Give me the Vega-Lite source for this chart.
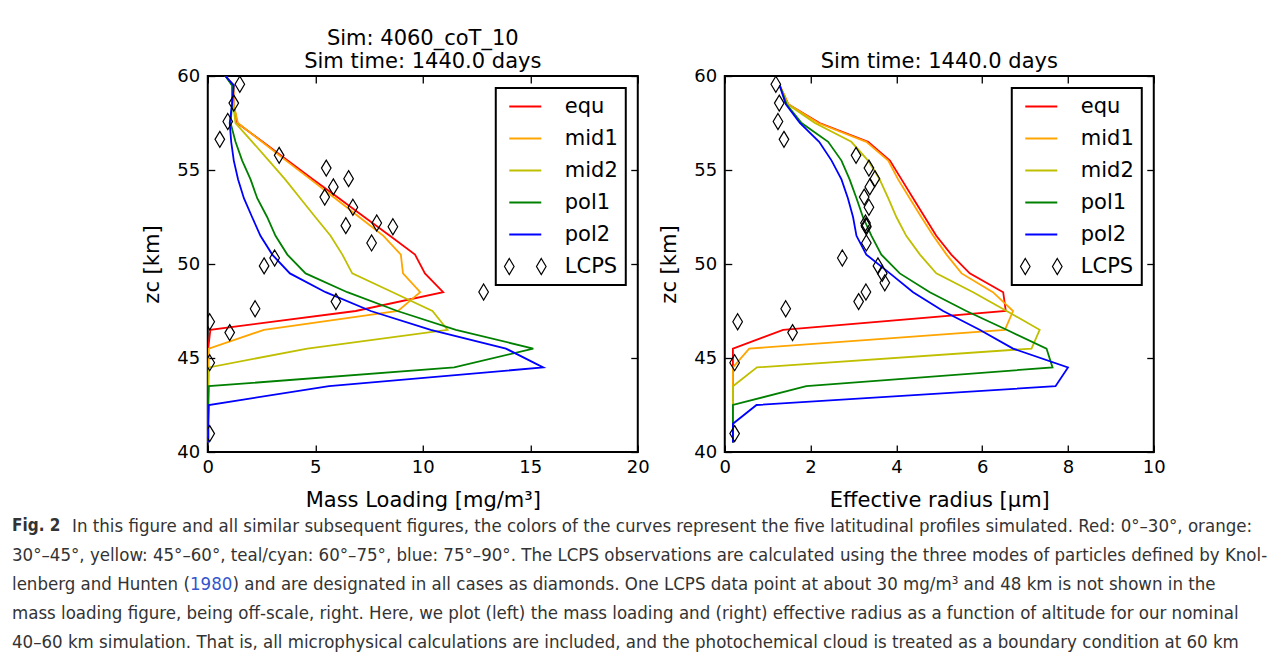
{
  "$schema": "https://vega.github.io/schema/vega-lite/v6.json",
  "padding": {"left": 12, "top": 27, "right": 0, "bottom": 0},
  "background": "white",
  "datasets": {
    "profiles": [
      {"series": "equ", "alt": 60.0, "mass": 0.82, "reff": null},
      {"series": "equ", "alt": 59.5, "mass": 1.2, "reff": 1.28},
      {"series": "equ", "alt": 58.5, "mass": 1.2, "reff": 1.48},
      {"series": "equ", "alt": 57.5, "mass": 1.37, "reff": 2.21},
      {"series": "equ", "alt": 56.5, "mass": 2.55, "reff": 3.34},
      {"series": "equ", "alt": 55.5, "mass": 3.73, "reff": 3.85},
      {"series": "equ", "alt": 54.5, "mass": 4.9, "reff": 4.12},
      {"series": "equ", "alt": 53.5, "mass": 6.1, "reff": 4.39},
      {"series": "equ", "alt": 52.5, "mass": 7.28, "reff": 4.66},
      {"series": "equ", "alt": 51.5, "mass": 8.47, "reff": 4.93},
      {"series": "equ", "alt": 50.5, "mass": 9.64, "reff": 5.28},
      {"series": "equ", "alt": 49.5, "mass": 10.1, "reff": 5.71},
      {"series": "equ", "alt": 48.5, "mass": 10.95, "reff": 6.49},
      {"series": "equ", "alt": 47.5, "mass": 6.88, "reff": 6.55},
      {"series": "equ", "alt": 46.5, "mass": 0.12, "reff": 1.36},
      {"series": "equ", "alt": 45.5, "mass": 0.02, "reff": 0.19},
      {"series": "equ", "alt": 44.5, "mass": 0.02, "reff": 0.19},
      {"series": "equ", "alt": 43.5, "mass": 0.02, "reff": 0.19},
      {"series": "equ", "alt": 42.5, "mass": 0.02, "reff": 0.19},
      {"series": "equ", "alt": 41.5, "mass": 0.02, "reff": 0.19},
      {"series": "equ", "alt": 40.5, "mass": 0.02, "reff": 0.19},
      {"series": "mid1", "alt": 60.0, "mass": 0.82, "reff": null},
      {"series": "mid1", "alt": 59.5, "mass": 1.2, "reff": 1.28},
      {"series": "mid1", "alt": 58.5, "mass": 1.2, "reff": 1.48},
      {"series": "mid1", "alt": 57.5, "mass": 1.4, "reff": 2.18},
      {"series": "mid1", "alt": 56.5, "mass": 2.52, "reff": 3.3},
      {"series": "mid1", "alt": 55.5, "mass": 3.64, "reff": 3.81},
      {"series": "mid1", "alt": 54.5, "mass": 4.78, "reff": 4.04},
      {"series": "mid1", "alt": 53.5, "mass": 5.92, "reff": 4.31},
      {"series": "mid1", "alt": 52.5, "mass": 7.04, "reff": 4.58},
      {"series": "mid1", "alt": 51.5, "mass": 8.17, "reff": 4.86},
      {"series": "mid1", "alt": 50.5, "mass": 8.98, "reff": 5.17},
      {"series": "mid1", "alt": 49.5, "mass": 9.08, "reff": 5.52},
      {"series": "mid1", "alt": 48.5, "mass": 9.88, "reff": 6.25},
      {"series": "mid1", "alt": 47.5, "mass": 8.85, "reff": 6.72},
      {"series": "mid1", "alt": 46.5, "mass": 2.61, "reff": 6.53},
      {"series": "mid1", "alt": 45.5, "mass": 0.05, "reff": 0.57},
      {"series": "mid1", "alt": 44.5, "mass": 0.02, "reff": 0.19},
      {"series": "mid1", "alt": 43.5, "mass": 0.02, "reff": 0.19},
      {"series": "mid1", "alt": 42.5, "mass": 0.02, "reff": 0.19},
      {"series": "mid1", "alt": 41.5, "mass": 0.02, "reff": 0.19},
      {"series": "mid1", "alt": 40.5, "mass": 0.02, "reff": 0.19},
      {"series": "mid2", "alt": 60.0, "mass": 0.82, "reff": null},
      {"series": "mid2", "alt": 59.5, "mass": 1.15, "reff": 1.28},
      {"series": "mid2", "alt": 58.5, "mass": 1.18, "reff": 1.46},
      {"series": "mid2", "alt": 57.5, "mass": 1.29, "reff": 2.1},
      {"series": "mid2", "alt": 56.5, "mass": 2.07, "reff": 2.95},
      {"series": "mid2", "alt": 55.5, "mass": 2.84, "reff": 3.34},
      {"series": "mid2", "alt": 54.5, "mass": 3.6, "reff": 3.61},
      {"series": "mid2", "alt": 53.5, "mass": 4.3, "reff": 3.81},
      {"series": "mid2", "alt": 52.5, "mass": 5.0, "reff": 4.0},
      {"series": "mid2", "alt": 51.5, "mass": 5.71, "reff": 4.23},
      {"series": "mid2", "alt": 50.5, "mass": 6.26, "reff": 4.55},
      {"series": "mid2", "alt": 49.5, "mass": 6.72, "reff": 4.93},
      {"series": "mid2", "alt": 48.5, "mass": 8.6, "reff": 5.79},
      {"series": "mid2", "alt": 47.5, "mass": 10.45, "reff": 6.57},
      {"series": "mid2", "alt": 46.5, "mass": 11.15, "reff": 7.34},
      {"series": "mid2", "alt": 45.5, "mass": 4.63, "reff": 7.15},
      {"series": "mid2", "alt": 44.5, "mass": 0.05, "reff": 0.75},
      {"series": "mid2", "alt": 43.5, "mass": 0.02, "reff": 0.19},
      {"series": "mid2", "alt": 42.5, "mass": 0.02, "reff": 0.19},
      {"series": "mid2", "alt": 41.5, "mass": 0.02, "reff": 0.19},
      {"series": "mid2", "alt": 40.5, "mass": 0.02, "reff": 0.19},
      {"series": "pol1", "alt": 60.0, "mass": 0.82, "reff": null},
      {"series": "pol1", "alt": 59.5, "mass": 1.13, "reff": 1.28},
      {"series": "pol1", "alt": 58.5, "mass": 1.13, "reff": 1.44},
      {"series": "pol1", "alt": 57.5, "mass": 1.06, "reff": 1.79},
      {"series": "pol1", "alt": 56.5, "mass": 1.29, "reff": 2.41},
      {"series": "pol1", "alt": 55.5, "mass": 1.6, "reff": 2.72},
      {"series": "pol1", "alt": 54.5, "mass": 1.99, "reff": 2.91},
      {"series": "pol1", "alt": 53.5, "mass": 2.3, "reff": 3.07},
      {"series": "pol1", "alt": 52.5, "mass": 2.76, "reff": 3.22},
      {"series": "pol1", "alt": 51.5, "mass": 3.15, "reff": 3.42},
      {"series": "pol1", "alt": 50.5, "mass": 3.7, "reff": 3.65},
      {"series": "pol1", "alt": 49.5, "mass": 4.55, "reff": 4.08},
      {"series": "pol1", "alt": 48.5, "mass": 6.49, "reff": 4.78},
      {"series": "pol1", "alt": 47.5, "mass": 8.82, "reff": 5.63},
      {"series": "pol1", "alt": 46.5, "mass": 11.54, "reff": 6.57},
      {"series": "pol1", "alt": 45.5, "mass": 15.14, "reff": 7.5},
      {"series": "pol1", "alt": 44.5, "mass": 11.46, "reff": 7.64},
      {"series": "pol1", "alt": 43.5, "mass": 0.05, "reff": 1.9},
      {"series": "pol1", "alt": 42.5, "mass": 0.02, "reff": 0.19},
      {"series": "pol1", "alt": 41.5, "mass": 0.02, "reff": 0.19},
      {"series": "pol1", "alt": 40.5, "mass": 0.02, "reff": 0.19},
      {"series": "pol2", "alt": 60.0, "mass": 0.82, "reff": null},
      {"series": "pol2", "alt": 59.5, "mass": 1.21, "reff": 1.28},
      {"series": "pol2", "alt": 58.5, "mass": 1.13, "reff": 1.42},
      {"series": "pol2", "alt": 57.5, "mass": 1.02, "reff": 1.75},
      {"series": "pol2", "alt": 56.5, "mass": 1.09, "reff": 2.2},
      {"series": "pol2", "alt": 55.5, "mass": 1.21, "reff": 2.49},
      {"series": "pol2", "alt": 54.5, "mass": 1.41, "reff": 2.72},
      {"series": "pol2", "alt": 53.5, "mass": 1.68, "reff": 2.87},
      {"series": "pol2", "alt": 52.5, "mass": 2.06, "reff": 2.99},
      {"series": "pol2", "alt": 51.5, "mass": 2.45, "reff": 3.07},
      {"series": "pol2", "alt": 50.5, "mass": 3.0, "reff": 3.3},
      {"series": "pol2", "alt": 49.5, "mass": 3.82, "reff": 3.85},
      {"series": "pol2", "alt": 48.5, "mass": 5.48, "reff": 4.39},
      {"series": "pol2", "alt": 47.5, "mass": 7.58, "reff": 5.09},
      {"series": "pol2", "alt": 46.5, "mass": 10.37, "reff": 5.94},
      {"series": "pol2", "alt": 45.5, "mass": 13.87, "reff": 6.72},
      {"series": "pol2", "alt": 44.5, "mass": 15.6, "reff": 8.0},
      {"series": "pol2", "alt": 43.5, "mass": 5.64, "reff": 7.71},
      {"series": "pol2", "alt": 42.5, "mass": 0.05, "reff": 0.74},
      {"series": "pol2", "alt": 41.5, "mass": 0.02, "reff": 0.19},
      {"series": "pol2", "alt": 40.5, "mass": 0.02, "reff": 0.19}
    ],
    "lcps": [
      {"series": "LCPS", "alt": 59.56, "mass": 1.49, "reff": 1.19},
      {"series": "LCPS", "alt": 58.56, "mass": 1.21, "reff": 1.27},
      {"series": "LCPS", "alt": 57.58, "mass": 0.93, "reff": 1.24},
      {"series": "LCPS", "alt": 56.63, "mass": 0.56, "reff": 1.38},
      {"series": "LCPS", "alt": 55.78, "mass": 3.32, "reff": 3.06},
      {"series": "LCPS", "alt": 55.1, "mass": 5.51, "reff": 3.36},
      {"series": "LCPS", "alt": 54.54, "mass": 6.55, "reff": 3.5},
      {"series": "LCPS", "alt": 54.1, "mass": 5.84, "reff": 3.38},
      {"series": "LCPS", "alt": 53.56, "mass": 5.44, "reff": 3.25},
      {"series": "LCPS", "alt": 53.02, "mass": 6.75, "reff": 3.36},
      {"series": "LCPS", "alt": 52.18, "mass": 7.86, "reff": 3.28},
      {"series": "LCPS", "alt": 52.04, "mass": 6.42, "reff": 3.29},
      {"series": "LCPS", "alt": 51.98, "mass": 8.61, "reff": 3.3},
      {"series": "LCPS", "alt": 51.12, "mass": 7.62, "reff": 3.3},
      {"series": "LCPS", "alt": 50.32, "mass": 3.11, "reff": 2.74},
      {"series": "LCPS", "alt": 49.9, "mass": 2.62, "reff": 3.57},
      {"series": "LCPS", "alt": 49.5, "mass": null, "reff": 3.67},
      {"series": "LCPS", "alt": 49.0, "mass": null, "reff": 3.73},
      {"series": "LCPS", "alt": 48.51, "mass": 12.83, "reff": 3.29},
      {"series": "LCPS", "alt": 48.0, "mass": 5.96, "reff": 3.12},
      {"series": "LCPS", "alt": 47.62, "mass": 2.2, "reff": 1.42},
      {"series": "LCPS", "alt": 46.93, "mass": 0.09, "reff": 0.3},
      {"series": "LCPS", "alt": 46.35, "mass": 1.02, "reff": 1.58},
      {"series": "LCPS", "alt": 44.75, "mass": 0.09, "reff": 0.23},
      {"series": "LCPS", "alt": 40.98, "mass": 0.09, "reff": 0.23}
    ],
    "caption": [
      {"line": 1, "part": "bold", "text": "Fig. 2"},
      {"line": 1, "part": "lead", "text": "In this figure and all similar subsequent figures, the colors of the curves represent the five latitudinal profiles simulated. Red: 0°–30°, orange:"},
      {"line": 2, "part": "body", "text": "30°–45°, yellow: 45°–60°, teal/cyan: 60°–75°, blue: 75°–90°. The LCPS observations are calculated using the three modes of particles defined by Knol-"},
      {"line": 3, "part": "body", "text": "lenberg and Hunten ("},
      {"line": 3, "part": "link", "text": "1980"},
      {"line": 3, "part": "tail", "text": ") and are designated in all cases as diamonds. One LCPS data point at about 30 mg/m³ and 48 km is not shown in the"},
      {"line": 4, "part": "body", "text": "mass loading figure, being off-scale, right. Here, we plot (left) the mass loading and (right) effective radius as a function of altitude for our nominal"},
      {"line": 5, "part": "body", "text": "40–60 km simulation. That is, all microphysical calculations are included, and the photochemical cloud is treated as a boundary condition at 60 km"}
    ]
  },
  "config": {
    "view": {"stroke": "black", "strokeWidth": 2},
    "font": "DejaVu Sans",
    "axis": {
      "grid": false, "domain": false, "tickColor": "black", "tickWidth": 1.3, "tickSize": -7,
      "labelFont": "DejaVu Sans", "labelFontSize": 18, "labelColor": "black", "labelPadding": 13,
      "labelFlush": false, "labelOverlap": false,
      "titleFont": "DejaVu Sans", "titleFontSize": 21, "titleFontWeight": "normal", "titleColor": "black"
    },
    "axisY": {"labelPadding": 15},
    "title": {"font": "DejaVu Sans", "fontSize": 21, "fontWeight": "normal", "color": "black", "lineHeight": 23, "offset": -5},
    "legend": {
      "orient": "top-right", "offset": 12, "padding": 8, "rowPadding": 10,
      "symbolSize": 1024, "symbolOffset": 11, "labelOffset": 29, "symbolType": "stroke",
      "labelFont": "DejaVu Sans", "labelFontSize": 21, "labelColor": "black",
      "strokeColor": "black", "fillColor": "white"
    }
  },
  "spacing": -1,
  "center": true,
  "vconcat": [
    {
      "spacing": 7,
      "resolve": {"scale": {"color": "independent"}},
      "hconcat": [
        {
          "width": 430, "height": 376,
          "title": {"text": ["Sim: 4060_coT_10", "Sim time: 1440.0 days"]},
          "resolve": {"axis": {"x": "independent", "y": "independent"}},
          "layer": [
            {
              "data": {"name": "profiles"},
              "mark": {"type": "line", "strokeWidth": 1.8, "clip": true},
              "encoding": {
                "x": {"field": "mass", "type": "quantitative", "scale": {"domain": [0, 20]}, "axis": {"title": "Mass Loading [mg/m³]", "values": [0, 5, 10, 15, 20], "titlePadding": 13}},
                "y": {"field": "alt", "type": "quantitative", "scale": {"domain": [40, 60]}, "axis": {"title": "zc [km]", "values": [40, 45, 50, 55, 60], "titlePadding": 14}},
                "order": {"field": "alt", "type": "quantitative"},
                "color": {
                  "field": "series", "type": "nominal",
                  "scale": {"domain": ["equ", "mid1", "mid2", "pol1", "pol2", "LCPS"], "range": ["#ff0000", "#ffa500", "#bfbf00", "#008000", "#0000ff", "#000000"]},
                  "legend": {
                    "title": null, "labelFontSize": 21, "labelFont": "DejaVu Sans", "rowPadding": 10,
                    "encode": {
                      "legend": {"update": {"strokeWidth": {"value": 2}}},
                      "symbols": {"update": {
                        "shape": {"signal": "datum.value === 'LCPS' ? 'M-1,-0.5L-0.7,0L-1,0.5L-1.3,0ZM1,-0.5L1.3,0L1,0.5L0.7,0Z' : 'M-1,0L1,0'"},
                        "fill": {"value": "transparent"},
                        "strokeWidth": {"signal": "datum.value === 'LCPS' ? 1.2 : 2"}
                      }}
                    }
                  }
                }
              }
            },
            {
              "data": {"name": "lcps"},
              "mark": {"type": "point", "shape": "M0,-1L0.6,0L0,1L-0.6,0Z", "size": 256, "filled": false, "strokeWidth": 1.2, "color": "black", "opacity": 1, "clip": true},
              "encoding": {
                "x": {"field": "mass", "type": "quantitative", "axis": null},
                "y": {"field": "alt", "type": "quantitative", "axis": null}
              }
            },
            {
              "data": {"name": "lcps"},
              "mark": {"type": "point", "opacity": 0},
              "encoding": {
                "x": {"field": "mass", "type": "quantitative", "axis": {"orient": "top", "labels": false, "title": null, "values": [0, 5, 10, 15, 20]}},
                "y": {"field": "alt", "type": "quantitative", "axis": {"orient": "right", "labels": false, "title": null, "values": [40, 45, 50, 55, 60]}}
              }
            }
          ]
        },
        {
          "width": 429, "height": 376,
          "title": {"text": "Sim time: 1440.0 days"},
          "resolve": {"axis": {"x": "independent", "y": "independent"}},
          "layer": [
            {
              "data": {"name": "profiles"},
              "mark": {"type": "line", "strokeWidth": 1.8, "clip": true},
              "encoding": {
                "x": {"field": "reff", "type": "quantitative", "scale": {"domain": [0, 10]}, "axis": {"title": "Effective radius [μm]", "values": [0, 2, 4, 6, 8, 10], "titlePadding": 13}},
                "y": {"field": "alt", "type": "quantitative", "scale": {"domain": [40, 60]}, "axis": {"title": "zc [km]", "values": [40, 45, 50, 55, 60], "titlePadding": 14}},
                "order": {"field": "alt", "type": "quantitative"},
                "color": {
                  "field": "series", "type": "nominal",
                  "scale": {"domain": ["equ", "mid1", "mid2", "pol1", "pol2", "LCPS"], "range": ["#ff0000", "#ffa500", "#bfbf00", "#008000", "#0000ff", "#000000"]},
                  "legend": {
                    "title": null, "labelFontSize": 21, "labelFont": "DejaVu Sans", "rowPadding": 10,
                    "encode": {
                      "legend": {"update": {"strokeWidth": {"value": 2}}},
                      "symbols": {"update": {
                        "shape": {"signal": "datum.value === 'LCPS' ? 'M-1,-0.5L-0.7,0L-1,0.5L-1.3,0ZM1,-0.5L1.3,0L1,0.5L0.7,0Z' : 'M-1,0L1,0'"},
                        "fill": {"value": "transparent"},
                        "strokeWidth": {"signal": "datum.value === 'LCPS' ? 1.2 : 2"}
                      }}
                    }
                  }
                }
              }
            },
            {
              "data": {"name": "lcps"},
              "mark": {"type": "point", "shape": "M0,-1L0.6,0L0,1L-0.6,0Z", "size": 256, "filled": false, "strokeWidth": 1.2, "color": "black", "opacity": 1, "clip": true},
              "encoding": {
                "x": {"field": "reff", "type": "quantitative", "axis": null},
                "y": {"field": "alt", "type": "quantitative", "axis": null}
              }
            },
            {
              "data": {"name": "lcps"},
              "mark": {"type": "point", "opacity": 0},
              "encoding": {
                "x": {"field": "reff", "type": "quantitative", "axis": {"orient": "top", "labels": false, "title": null, "values": [0, 2, 4, 6, 8, 10]}},
                "y": {"field": "alt", "type": "quantitative", "axis": {"orient": "right", "labels": false, "title": null, "values": [40, 45, 50, 55, 60]}}
              }
            }
          ]
        }
      ]
    },
    {
      "width": 1350, "height": 145,
      "view": {"stroke": null},
      "data": {"name": "caption"},
      "encoding": {
        "x": {"datum": 0, "type": "quantitative", "scale": {"domain": [0, 1]}, "axis": null},
        "y": {"field": "line", "type": "ordinal", "axis": null, "scale": {"domain": [1, 2, 3, 4, 5]}},
        "text": {"field": "text"}
      },
      "layer": [
        {"transform": [{"filter": "datum.part === 'bold'"}], "mark": {"type": "text", "align": "left", "baseline": "middle", "font": "DejaVu Sans Condensed, Liberation Sans, sans-serif", "fontSize": 17, "fontWeight": "bold", "color": "#333333"}},
        {"transform": [{"filter": "datum.part === 'lead'"}], "mark": {"type": "text", "align": "left", "baseline": "middle", "dx": 60, "font": "DejaVu Sans Condensed, Liberation Sans, sans-serif", "fontSize": 18.5, "color": "#333333"}},
        {"transform": [{"filter": "datum.part === 'body'"}], "mark": {"type": "text", "align": "left", "baseline": "middle", "font": "DejaVu Sans Condensed, Liberation Sans, sans-serif", "fontSize": 18.5, "color": "#333333"}},
        {"transform": [{"filter": "datum.part === 'link'"}], "mark": {"type": "text", "align": "left", "baseline": "middle", "dx": 178, "font": "DejaVu Sans Condensed, Liberation Sans, sans-serif", "fontSize": 18.5, "color": "#3355cc"}},
        {"transform": [{"filter": "datum.part === 'tail'"}], "mark": {"type": "text", "align": "left", "baseline": "middle", "dx": 220.5, "font": "DejaVu Sans Condensed, Liberation Sans, sans-serif", "fontSize": 18.5, "color": "#333333"}}
      ]
    }
  ]
}
